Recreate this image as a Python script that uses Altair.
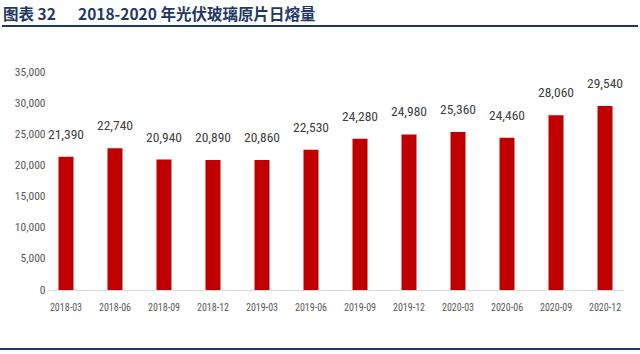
import altair as alt
import pandas as pd

periods = ["2018-03", "2018-06", "2018-09", "2018-12", "2019-03", "2019-06",
           "2019-09", "2019-12", "2020-03", "2020-06", "2020-09", "2020-12"]
values = [21390, 22740, 20940, 20890, 20860, 22530, 24280, 24980, 25360, 24460, 28060, 29540]
y_ticks = [0, 5000, 10000, 15000, 20000, 25000, 30000, 35000]
title_a = "图表 32"
title_b = "2018-2020 年光伏玻璃原片日熔量"

df = pd.DataFrame({"period": periods, "value": values})

NARROW = "Liberation Sans Narrow, Roboto Condensed, Arial Narrow, sans-serif"
NAVY = "#1F3864"

x = alt.X("period:N", sort=periods, title=None,
          scale=alt.Scale(paddingInner=0.694, paddingOuter=0.214),
          axis=alt.Axis(labelAngle=0, labelFont=NARROW, labelFontSize=10, labelColor="#595959",
                        ticks=False, domainColor="#D9D9D9", domainWidth=1, labelPadding=12))
y = alt.Y("value:Q", title=None,
          scale=alt.Scale(domain=[0, 35000], nice=False),
          axis=alt.Axis(values=y_ticks, labelExpr="format(datum.value, ',')", labelOverlap=False,
                        grid=False, domain=False, ticks=False,
                        labelFont=NARROW, labelFontSize=11.5, labelColor="#595959", labelPadding=3))

base = alt.Chart(df)
bars = base.mark_bar(color="#C00000").encode(x=x, y=y)
labels = base.mark_text(font=NARROW, fontSize=13.5, color="#404040", dy=-22, baseline="middle").encode(
    x=x, y=y, text=alt.Text("value:Q", format=","))

t1 = alt.Chart(pd.DataFrame({"t": [title_a]})).mark_text(
    font="Noto Sans CJK SC", fontSize=15.5, fontWeight="bold", color=NAVY, align="left", baseline="alphabetic"
).encode(x=alt.value(-45), y=alt.value(-52), text="t:N")
t2 = alt.Chart(pd.DataFrame({"t": [title_b]})).mark_text(
    font="Noto Sans CJK SC", fontSize=15.5, fontWeight="bold", color=NAVY, align="left", baseline="alphabetic"
).encode(x=alt.value(30), y=alt.value(-52), text="t:N")
rule_top = alt.Chart(pd.DataFrame({"a": [0]})).mark_rule(color=NAVY, strokeWidth=2).encode(
    x=alt.value(-46), x2=alt.value(590), y=alt.value(-46))
rule_bot = alt.Chart(pd.DataFrame({"a": [0]})).mark_rule(color=NAVY, strokeWidth=2).encode(
    x=alt.value(-48), x2=alt.value(592), y=alt.value(277))

chart = alt.layer(bars, labels, t1, t2, rule_top, rule_bot).properties(
    width=575, height=218,
    autosize=alt.AutoSizeParams(type="none"),
    padding={"left": 48, "top": 72, "right": 17, "bottom": 64},
    background="white",
).configure_view(stroke=None)

chart.save("out.html", embed_options={"renderer": "svg", "actions": False})
